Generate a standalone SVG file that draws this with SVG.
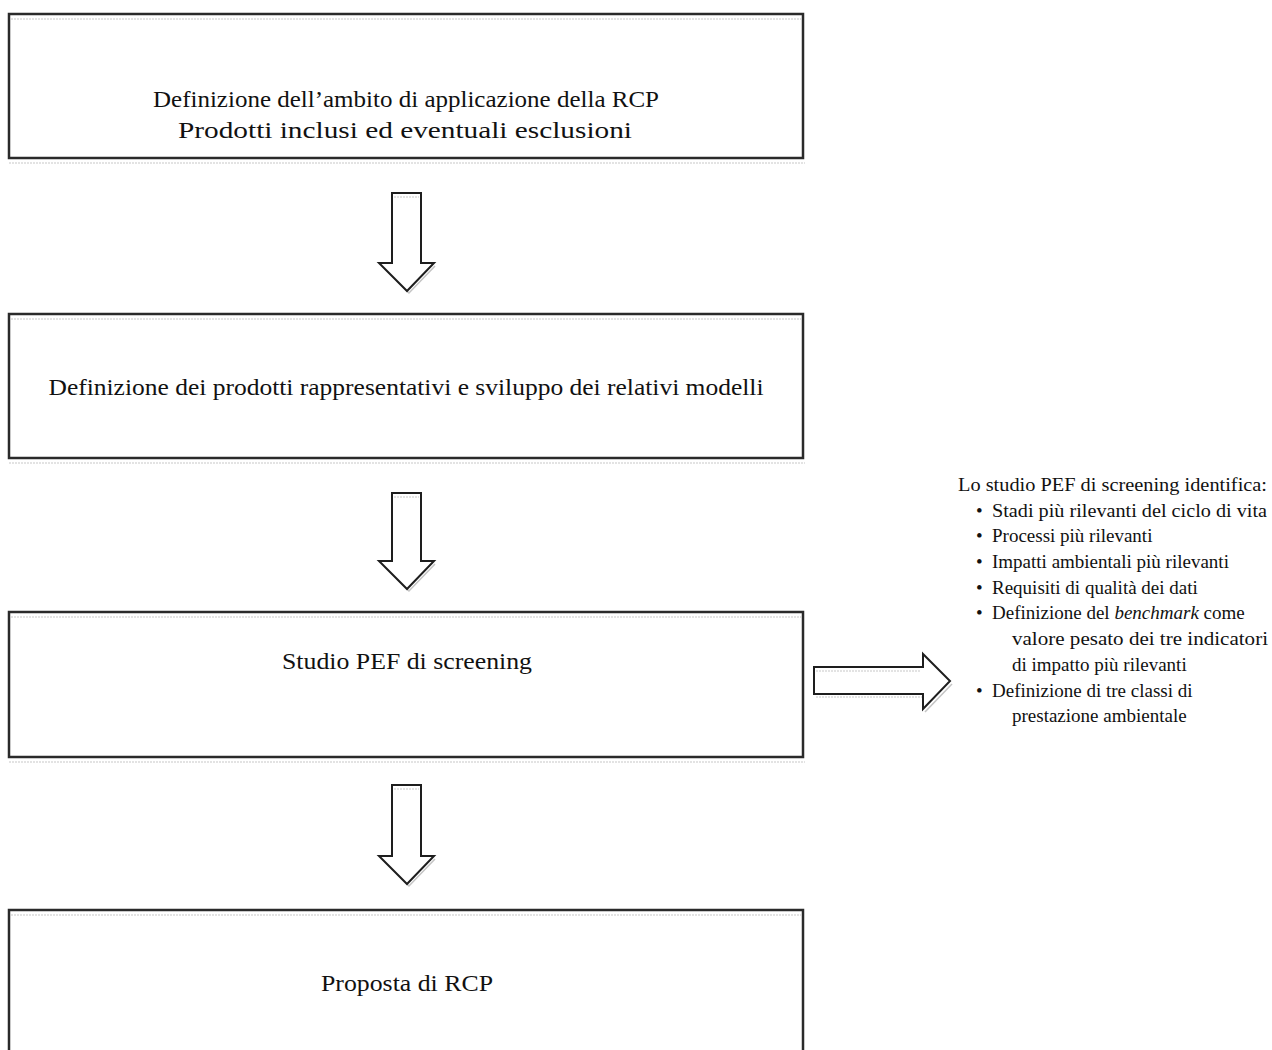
<svg xmlns="http://www.w3.org/2000/svg" width="1272" height="1050" viewBox="0 0 1272 1050">
<style>
  .box{fill:#fff;stroke:#2a2a2a;stroke-width:2.5}
  .sh{fill:none;stroke:#c8c8c8;stroke-width:1.2;stroke-dasharray:2 1}
  .arr{fill:#fff;stroke:#1e1e1e;stroke-width:2;stroke-linejoin:miter}
  .ash{fill:none;stroke:#c4c4c4;stroke-width:1.5}
  .t{font-family:"Liberation Serif","DejaVu Serif",serif;font-size:23px;fill:#111;text-anchor:middle}
  .r{font-family:"Liberation Serif","DejaVu Serif",serif;font-size:19px;fill:#111}
</style>
<rect width="1272" height="1050" fill="#fff"/>

<g id="node1">
  <rect class="box" x="9" y="14" width="794" height="144"/>
  <line class="sh" x1="11" y1="19" x2="801" y2="19"/>
  <line class="sh" x1="9" y1="163" x2="805" y2="163"/>
  <text class="t" x="406" y="107" textLength="506" lengthAdjust="spacingAndGlyphs">Definizione dell’ambito di applicazione della RCP</text>
  <text class="t" x="405" y="138" textLength="454" lengthAdjust="spacingAndGlyphs">Prodotti inclusi ed eventuali esclusioni</text>
</g>

<g id="node2">
  <rect class="box" x="9" y="314" width="794" height="144"/>
  <line class="sh" x1="11" y1="319" x2="801" y2="319"/>
  <line class="sh" x1="9" y1="463" x2="805" y2="463"/>
  <text class="t" x="406" y="395" textLength="715" lengthAdjust="spacingAndGlyphs">Definizione dei prodotti rappresentativi e sviluppo dei relativi modelli</text>
</g>

<g id="node3">
  <rect class="box" x="9" y="612" width="794" height="145"/>
  <line class="sh" x1="11" y1="617" x2="801" y2="617"/>
  <line class="sh" x1="9" y1="762" x2="805" y2="762"/>
  <text class="t" x="407" y="669" textLength="250" lengthAdjust="spacingAndGlyphs">Studio PEF di screening</text>
</g>

<g id="node4">
  <rect class="box" x="9" y="910" width="794" height="160"/>
  <line class="sh" x1="11" y1="915" x2="801" y2="915"/>
  <text class="t" x="407" y="991" textLength="172" lengthAdjust="spacingAndGlyphs">Proposta di RCP</text>
</g>

<g id="note">
  <text class="r" x="958" y="491" textLength="309" lengthAdjust="spacingAndGlyphs">Lo studio PEF di screening identifica:</text>
  <g>
    <text class="r" x="976" y="517">•</text>
    <text class="r" x="992" y="517" textLength="275" lengthAdjust="spacingAndGlyphs">Stadi più rilevanti del ciclo di vita</text>
    <text class="r" x="976" y="542">•</text>
    <text class="r" x="992" y="542">Processi più rilevanti</text>
    <text class="r" x="976" y="568">•</text>
    <text class="r" x="992" y="568">Impatti ambientali più rilevanti</text>
    <text class="r" x="976" y="594">•</text>
    <text class="r" x="992" y="594">Requisiti di qualità dei dati</text>
    <text class="r" x="976" y="619">•</text>
    <text class="r" x="992" y="619">Definizione del <tspan font-style="italic">benchmark</tspan> come</text>
    <text class="r" x="1012" y="645" textLength="256" lengthAdjust="spacingAndGlyphs">valore pesato  dei tre indicatori</text>
    <text class="r" x="1012" y="671">di impatto  più rilevanti</text>
    <text class="r" x="976" y="697">•</text>
    <text class="r" x="992" y="697">Definizione di tre classi di</text>
    <text class="r" x="1012" y="722">prestazione ambientale</text>
  </g>
</g>

<g id="connectors">
  <g id="arrow1">
    <polyline class="ash" points="435,266 409,293 382,266"/>
    <polygon class="arr" points="392,193 421,193 421,263 434,263 407,291 379,263 392,263"/>
    <line class="sh" x1="394" y1="197" x2="419" y2="197"/>
  </g>
  <g id="arrow2">
    <polyline class="ash" points="435,564 409,591 382,564"/>
    <polygon class="arr" points="392,493 421,493 421,561 434,561 407,589 379,561 392,561"/>
    <line class="sh" x1="394" y1="497" x2="419" y2="497"/>
  </g>
  <g id="arrow3">
    <polyline class="ash" points="435,859 409,886 382,859"/>
    <polygon class="arr" points="392,785 421,785 421,856 434,856 407,884 379,856 392,856"/>
    <line class="sh" x1="394" y1="789" x2="419" y2="789"/>
  </g>
  <g id="arrow4">
    <polyline class="ash" points="952,684 925,712"/>
    <line class="sh" x1="816" y1="697" x2="922" y2="697"/>
    <polygon class="arr" points="814,667 923,667 923,654 950,681 923,709 923,694 814,694"/>
    <line class="sh" x1="816" y1="671" x2="921" y2="671"/>
  </g>
</g>
</svg>
